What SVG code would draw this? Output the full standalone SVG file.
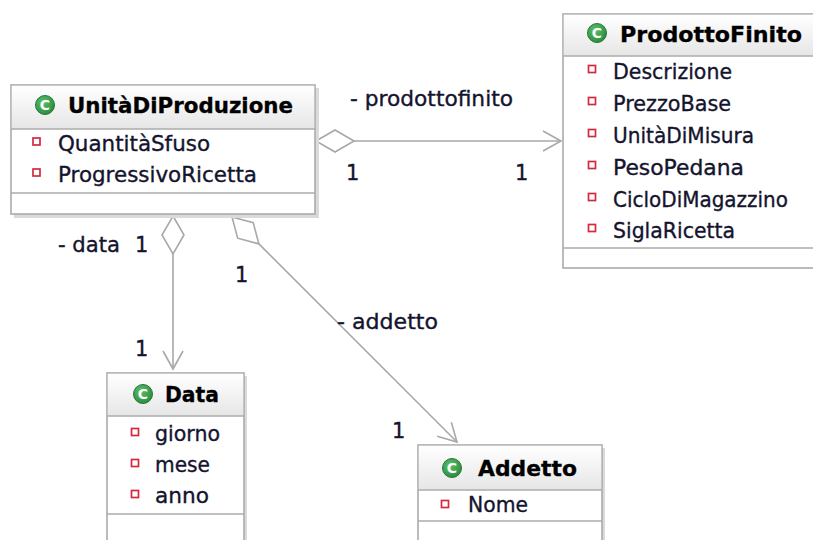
<svg xmlns="http://www.w3.org/2000/svg" width="813" height="540" viewBox="0 0 813 540">
  <defs>
    <linearGradient id="hdr" x1="0" y1="0" x2="0" y2="1">
      <stop offset="0" stop-color="#ffffff"/>
      <stop offset="1" stop-color="#e6e6e6"/>
    </linearGradient>
    <radialGradient id="icon" cx="0.4" cy="0.35" r="0.7">
      <stop offset="0" stop-color="#5cbf6c"/>
      <stop offset="1" stop-color="#2a8a3c"/>
    </radialGradient>
    <marker id="open-arrow" markerUnits="userSpaceOnUse" orient="auto" refX="0" refY="0" markerWidth="40" markerHeight="40" viewBox="-20 -20 40 40" overflow="visible">
      <path d="M -18 -10 L 0 0 L -18 10" fill="none" stroke="#a8a8a8" stroke-width="1.6"/>
    </marker>
    <marker id="diamond" markerUnits="userSpaceOnUse" orient="auto" refX="0" refY="0" markerWidth="60" markerHeight="40" viewBox="-10 -20 60 40" overflow="visible">
      <path d="M 0 0 L 19 -11 L 38 0 L 19 11 Z" fill="#ffffff" stroke="#a8a8a8" stroke-width="1.6"/>
    </marker>
  </defs>
  <style>
    .shadow { fill: #dadada; }
    .box { fill: #ffffff; stroke: #ababab; stroke-width: 1.6; }
    .head { fill: url(#hdr); }
    .sep { stroke: #ababab; stroke-width: 1.6; }
    .title { font-family: "DejaVu Sans", "Liberation Sans", sans-serif; font-weight: bold; font-size: 21px; fill: #000000; stroke: #000000; stroke-width: 0.3; }
    .attr { font-family: "DejaVu Sans", "Liberation Sans", sans-serif; font-size: 21px; fill: #14142e; stroke: #14142e; stroke-width: 0.35; }
    .lbl { font-family: "DejaVu Sans", "Liberation Sans", sans-serif; font-size: 21px; fill: #14142e; stroke: #14142e; stroke-width: 0.35; }
    .priv { fill: #ffffff; stroke: #d42a3c; stroke-width: 1.7; }
    .ic { fill: url(#icon); stroke: #23783a; stroke-width: 1; }
    .ict { font-family: "DejaVu Sans", sans-serif; font-weight: bold; font-size: 14px; fill: #ffffff; text-anchor: middle; }
    .conn { fill: none; stroke: #a8a8a8; stroke-width: 1.6; }
  </style>

  <rect width="813" height="540" fill="#ffffff"/>

  <!-- associations -->
  <g id="connectors">
    <line class="conn" x1="316" y1="141" x2="561" y2="141" marker-start="url(#diamond)" marker-end="url(#open-arrow)"/>
    <line class="conn" x1="173" y1="216" x2="173" y2="369" marker-start="url(#diamond)" marker-end="url(#open-arrow)"/>
    <line class="conn" x1="232" y1="217" x2="457" y2="442" marker-start="url(#diamond)" marker-end="url(#open-arrow)"/>
    <text class="lbl" x="350" y="106" textLength="163" lengthAdjust="spacingAndGlyphs">- prodottofinito</text>
    <text class="lbl" x="346" y="180">1</text>
    <text class="lbl" x="515" y="180">1</text>
    <text class="lbl" x="58" y="252" textLength="62" lengthAdjust="spacingAndGlyphs">- data</text>
    <text class="lbl" x="135" y="252">1</text>
    <text class="lbl" x="135" y="356">1</text>
    <text class="lbl" x="235" y="282">1</text>
    <text class="lbl" x="337" y="329" textLength="101" lengthAdjust="spacingAndGlyphs">- addetto</text>
    <text class="lbl" x="392" y="438">1</text>
  </g>

  <!-- class UnitàDiProduzione -->
  <g id="UnitaDiProduzione">
    <rect class="shadow" x="14" y="88" width="305" height="130"/>
    <rect class="box" x="11" y="85" width="304" height="129"/>
    <rect class="head" x="11.8" y="85.8" width="302.4" height="43"/>
    <line class="sep" x1="11" y1="129" x2="315" y2="129"/>
    <line class="sep" x1="11" y1="193" x2="315" y2="193"/>
    <circle class="ic" cx="45" cy="105" r="9.5"/>
    <text class="ict" x="45" y="110">C</text>
    <text class="title" x="68" y="113" textLength="225" lengthAdjust="spacingAndGlyphs">UnitàDiProduzione</text>
    <rect class="priv" x="33" y="138" width="7" height="7"/>
    <text class="attr" x="58" y="151" textLength="152" lengthAdjust="spacingAndGlyphs">QuantitàSfuso</text>
    <rect class="priv" x="33" y="169" width="7" height="7"/>
    <text class="attr" x="58" y="182" textLength="199" lengthAdjust="spacingAndGlyphs">ProgressivoRicetta</text>
  </g>

  <!-- class ProdottoFinito -->
  <g id="ProdottoFinito">
    <rect class="box" x="563" y="14" width="260" height="254"/>
    <rect class="head" x="563.8" y="14.8" width="258" height="41"/>
    <line class="sep" x1="563" y1="56" x2="823" y2="56"/>
    <line class="sep" x1="563" y1="248" x2="823" y2="248"/>
    <circle class="ic" cx="597" cy="33" r="9.5"/>
    <text class="ict" x="597" y="38">C</text>
    <text class="title" x="620" y="42" textLength="182" lengthAdjust="spacingAndGlyphs">ProdottoFinito</text>
    <rect class="priv" x="588.5" y="65.5" width="7" height="7"/>
    <text class="attr" x="613" y="79" textLength="119" lengthAdjust="spacingAndGlyphs">Descrizione</text>
    <rect class="priv" x="588.5" y="97.5" width="7" height="7"/>
    <text class="attr" x="613" y="111" textLength="118" lengthAdjust="spacingAndGlyphs">PrezzoBase</text>
    <rect class="priv" x="588.5" y="129.5" width="7" height="7"/>
    <text class="attr" x="613" y="143" textLength="141" lengthAdjust="spacingAndGlyphs">UnitàDiMisura</text>
    <rect class="priv" x="588.5" y="161.5" width="7" height="7"/>
    <text class="attr" x="613" y="175" textLength="131" lengthAdjust="spacingAndGlyphs">PesoPedana</text>
    <rect class="priv" x="588.5" y="193.5" width="7" height="7"/>
    <text class="attr" x="613" y="207" textLength="175" lengthAdjust="spacingAndGlyphs">CicloDiMagazzino</text>
    <rect class="priv" x="588.5" y="224.5" width="7" height="7"/>
    <text class="attr" x="613" y="238" textLength="122" lengthAdjust="spacingAndGlyphs">SiglaRicetta</text>
  </g>

  <!-- class Data -->
  <g id="Data">
    <rect class="shadow" x="110" y="376" width="137" height="170"/>
    <rect class="box" x="107" y="373" width="137" height="170"/>
    <rect class="head" x="107.8" y="373.8" width="135.4" height="42"/>
    <line class="sep" x1="107" y1="416" x2="244" y2="416"/>
    <line class="sep" x1="107" y1="514" x2="244" y2="514"/>
    <circle class="ic" cx="143" cy="394" r="9.5"/>
    <text class="ict" x="143" y="399">C</text>
    <text class="title" x="165" y="402" textLength="54" lengthAdjust="spacingAndGlyphs">Data</text>
    <rect class="priv" x="131.5" y="428.5" width="7" height="7"/>
    <text class="attr" x="155" y="441" textLength="65" lengthAdjust="spacingAndGlyphs">giorno</text>
    <rect class="priv" x="131.5" y="459.5" width="7" height="7"/>
    <text class="attr" x="155" y="472" textLength="55" lengthAdjust="spacingAndGlyphs">mese</text>
    <rect class="priv" x="131.5" y="490.5" width="7" height="7"/>
    <text class="attr" x="155" y="503" textLength="54" lengthAdjust="spacingAndGlyphs">anno</text>
  </g>

  <!-- class Addetto -->
  <g id="Addetto">
    <rect class="shadow" x="421" y="448" width="184" height="100"/>
    <rect class="box" x="418" y="445" width="184" height="100"/>
    <rect class="head" x="418.8" y="445.8" width="182.4" height="44"/>
    <line class="sep" x1="418" y1="490" x2="602" y2="490"/>
    <line class="sep" x1="418" y1="521" x2="602" y2="521"/>
    <circle class="ic" cx="452" cy="468" r="9.5"/>
    <text class="ict" x="452" y="473">C</text>
    <text class="title" x="478" y="476" textLength="99" lengthAdjust="spacingAndGlyphs">Addetto</text>
    <rect class="priv" x="441.5" y="500.5" width="7" height="7"/>
    <text class="attr" x="468" y="512" textLength="60" lengthAdjust="spacingAndGlyphs">Nome</text>
  </g>
</svg>
